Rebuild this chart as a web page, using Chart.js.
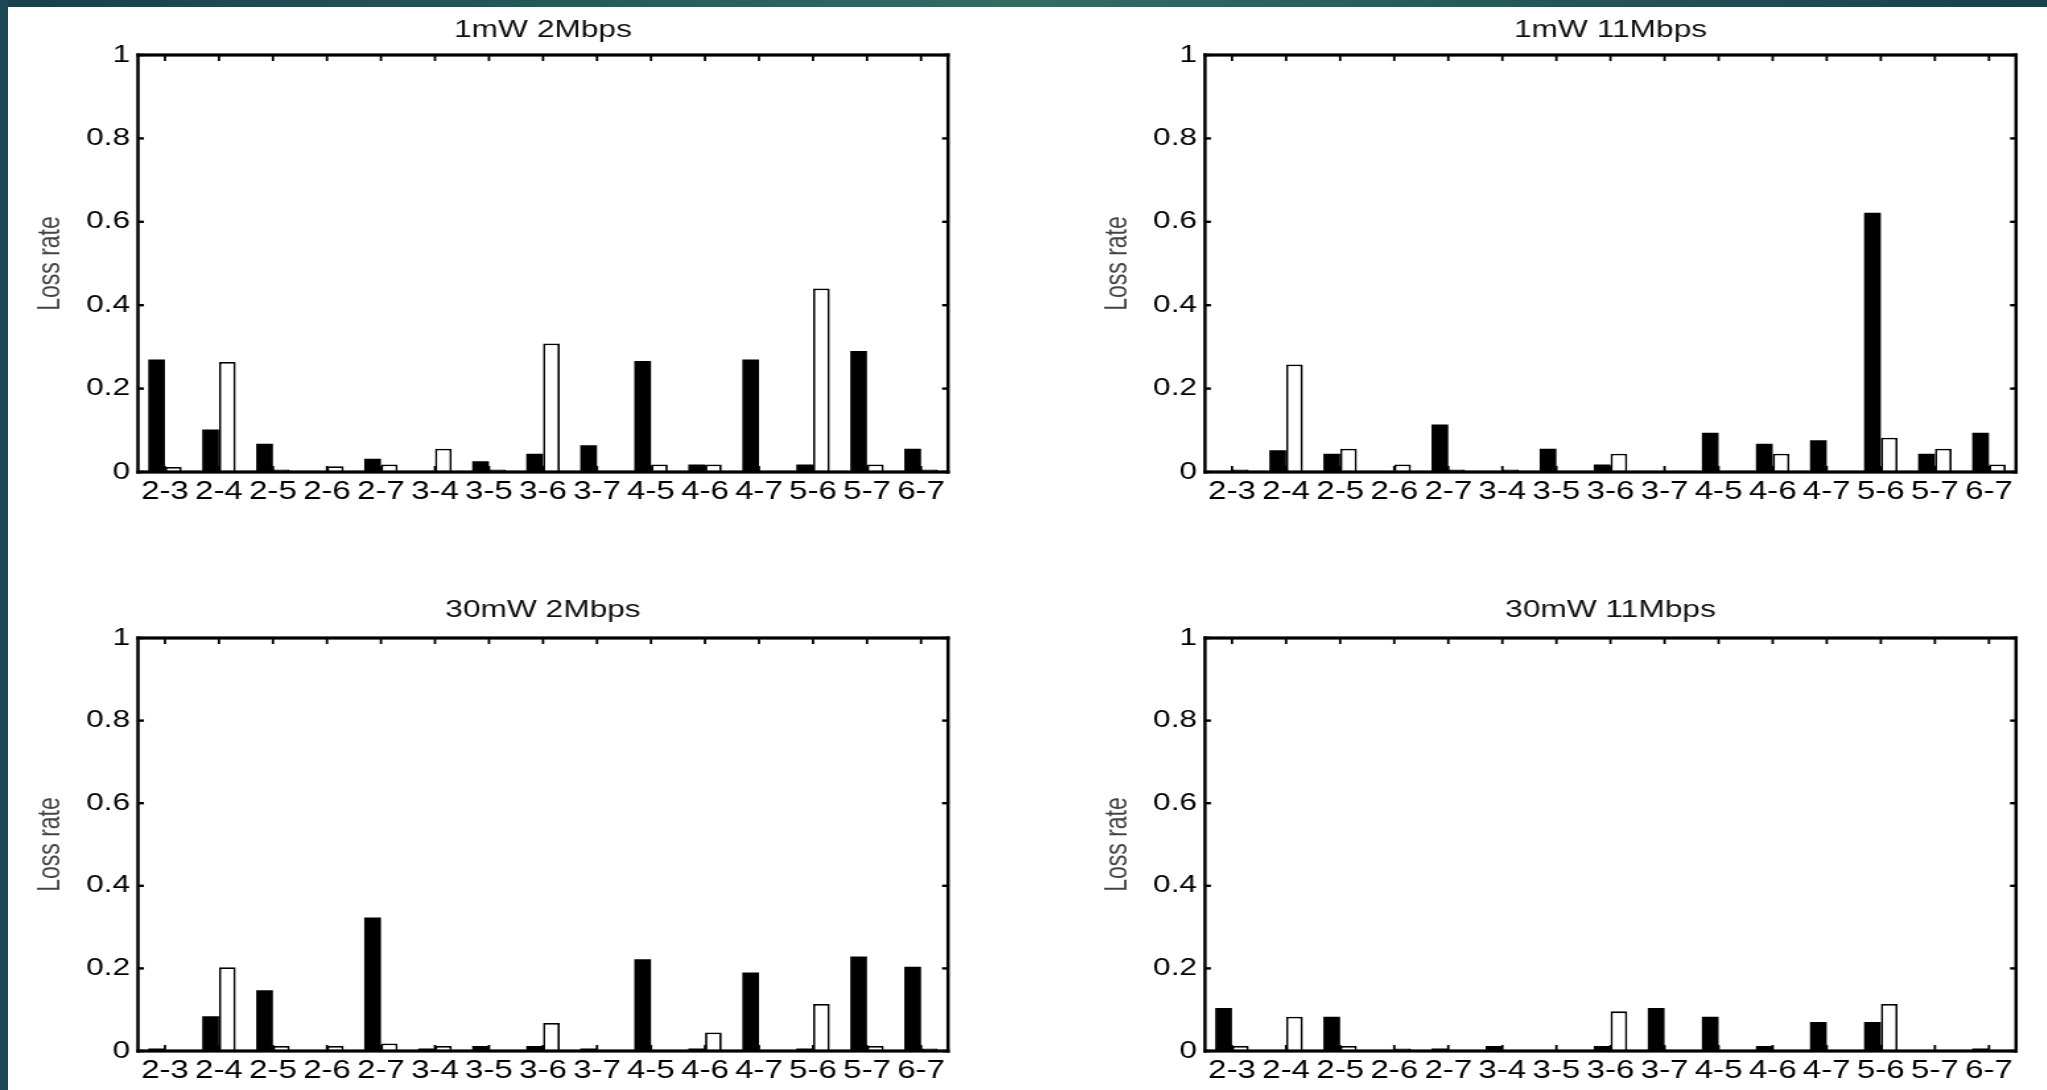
<!DOCTYPE html>
<html>
<head>
<meta charset="utf-8">
<title>Loss rate</title>
<script src="https://cdn.jsdelivr.net/npm/chart.js@4.4.0/dist/chart.umd.min.js"></script>
<style>
    html, body { margin: 0; padding: 0; }
    body {
        width: 2047px;
        height: 1090px;
        background: #ffffff;
        position: relative;
        overflow: hidden;
    }
    #topBand {
        position: absolute; left: 0; top: 0; width: 2047px; height: 7px; z-index: 5;
        background: linear-gradient(to right, #17404d, #346c64 50%, #18404e);
    }
    #leftBand {
        position: absolute; left: 0; top: 0; width: 8px; height: 1090px; z-index: 5;
        background: #1b4754;
    }
    .panel {
        position: absolute;
        transform-origin: 0 0;
        transform: scaleX(1.32);
    }
</style>
</head>
<body>
<div id="topBand"></div>
<div id="leftBand"></div>
<div class="panel" style="left:0px; top:0px;"><canvas id="c1" width="740" height="520"></canvas></div>
<div class="panel" style="left:1050px; top:0px;"><canvas id="c2" width="752" height="520"></canvas></div>
<div class="panel" style="left:0px; top:560px;"><canvas id="c3" width="740" height="530"></canvas></div>
<div class="panel" style="left:1050px; top:560px;"><canvas id="c4" width="752" height="530"></canvas></div>

<script>
// Dados
const categories = ['2-3', '2-4', '2-5', '2-6', '2-7', '3-4', '3-5', '3-6', '3-7', '4-5', '4-6', '4-7', '5-6', '5-7', '6-7'];
const yTicks = [0, 0.2, 0.4, 0.6, 0.8, 1];

// 1mW 2Mbps
const black1mW2 = [0.270, 0.102, 0.068, 0, 0.032, 0, 0.026, 0.044, 0.064, 0.266, 0.018, 0.270, 0.018, 0.290, 0.056];
const white1mW2 = [0.012, 0.264, 0.006, 0.014, 0.018, 0.056, 0.006, 0.308, 0, 0.018, 0.018, 0, 0.440, 0.018, 0.006];

// 1mW 11Mbps
const black1mW11 = [0, 0.052, 0.044, 0, 0.114, 0, 0.056, 0.018, 0, 0.094, 0.068, 0.076, 0.622, 0.044, 0.094];
const white1mW11 = [0.006, 0.258, 0.056, 0.018, 0.006, 0.006, 0, 0.044, 0, 0, 0.044, 0, 0.082, 0.056, 0.018];

// 30mW 2Mbps
const black30mW2 = [0.006, 0.084, 0.147, 0, 0.323, 0.006, 0.012, 0.012, 0.006, 0.222, 0.006, 0.190, 0.006, 0.229, 0.204];
const white30mW2 = [0, 0.203, 0.012, 0.012, 0.018, 0.012, 0, 0.068, 0, 0, 0.045, 0, 0.114, 0.012, 0.006];

// 30mW 11Mbps
const black30mW11 = [0.104, 0, 0.083, 0, 0.006, 0.012, 0, 0.012, 0.104, 0.083, 0.012, 0.070, 0.070, 0, 0.006];
const white30mW11 = [0.012, 0.083, 0.012, 0.006, 0, 0, 0, 0.096, 0, 0, 0, 0, 0.114, 0, 0];

Chart.defaults.font.family = '"Liberation Sans", Arial, sans-serif';
Chart.defaults.color = '#000';

// Moldura e marcas para dentro (estilo MATLAB)
const boxPlugin = {
    id: 'box',
    afterDatasetsDraw(chart) {
        const ctx = chart.ctx;
        const a = chart.chartArea;
        const x = chart.scales.x;
        const y = chart.scales.y;
        ctx.save();
        ctx.fillStyle = '#000';
        ctx.fillRect(a.left - 1.25, a.top - 1.6, a.right - a.left + 2.5, 3.2);
        ctx.fillRect(a.left - 1.25, a.bottom - 1.6, a.right - a.left + 2.5, 3.2);
        ctx.fillRect(a.left - 1.25, a.top - 1.6, 2.5, a.bottom - a.top + 3.2);
        ctx.fillRect(a.right - 1.25, a.top - 1.6, 2.5, a.bottom - a.top + 3.2);
        x.ticks.forEach((t, i) => {
            const px = x.getPixelForTick(i);
            ctx.fillRect(px - 0.9, a.top, 1.8, 6);
            ctx.fillRect(px - 0.9, a.bottom - 6, 1.8, 6);
        });
        yTicks.forEach(v => {
            const py = y.getPixelForValue(v);
            ctx.fillRect(a.left, py - 1.2, 4.5, 2.4);
            ctx.fillRect(a.right - 4.5, py - 1.2, 4.5, 2.4);
        });
        ctx.restore();
    }
};

// Função para criar cada gráfico
function makeChart(id, title, blackValues, whiteValues, padLeft, padRight, titleTop, titleBottom, xHeight) {
    const ctx = document.getElementById(id).getContext('2d');
    return new Chart(ctx, {
        type: 'bar',
        data: {
            labels: categories,
            datasets: [{
                data: blackValues,
                backgroundColor: '#000',
                borderWidth: 0
            }, {
                data: whiteValues,
                backgroundColor: '#fff',
                borderColor: '#000',
                borderWidth: 1.8
            }]
        },
        options: {
            responsive: false,
            animation: false,
            devicePixelRatio: 1,
            layout: { padding: { left: padLeft, right: padRight, top: 0, bottom: 0 } },
            datasets: { bar: { barPercentage: 1, categoryPercentage: 0.62 } },
            plugins: {
                legend: { display: false },
                tooltip: { enabled: false },
                title: {
                    display: true,
                    fullSize: false,
                    text: title,
                    color: '#111',
                    font: { size: 24, weight: 'normal' },
                    padding: { top: titleTop, bottom: titleBottom }
                }
            },
            scales: {
                x: {
                    offset: true,
                    grid: { display: false, drawTicks: false },
                    border: { display: false },
                    ticks: { font: { size: 25 }, color: '#000', padding: 5, maxRotation: 0, minRotation: 0, autoSkip: false },
                    afterFit: scale => { scale.height = xHeight; }
                },
                y: {
                    min: 0,
                    max: 1,
                    grid: { display: false, drawTicks: false },
                    border: { display: false },
                    afterBuildTicks: scale => { scale.ticks = yTicks.map(v => ({ value: v })); },
                    ticks: {
                        font: { size: 24 },
                        color: '#000',
                        padding: 6,
                        callback: v => String(parseFloat(Number(v).toFixed(1)))
                    },
                    title: {
                        display: true,
                        text: 'Loss rate',
                        color: '#444',
                        font: { size: 23 },
                        padding: { top: 0, bottom: 0 }
                    },
                    afterFit: scale => { scale.width = 80; }
                }
            }
        },
        plugins: [boxPlugin]
    });
}

makeChart('c1', '1mW 2Mbps', black1mW2, white1mW2, 24.5, 21.8, 16, 10.2, 48);
makeChart('c2', '1mW 11Mbps', black1mW11, white1mW11, 37.4, 20.2, 16, 10.2, 48);
makeChart('c3', '30mW 2Mbps', black30mW2, white30mW2, 24.5, 21.8, 36, 13.2, 39);
makeChart('c4', '30mW 11Mbps', black30mW11, white30mW11, 37.4, 20.2, 36, 13.2, 39);
</script>
</body>
</html>
